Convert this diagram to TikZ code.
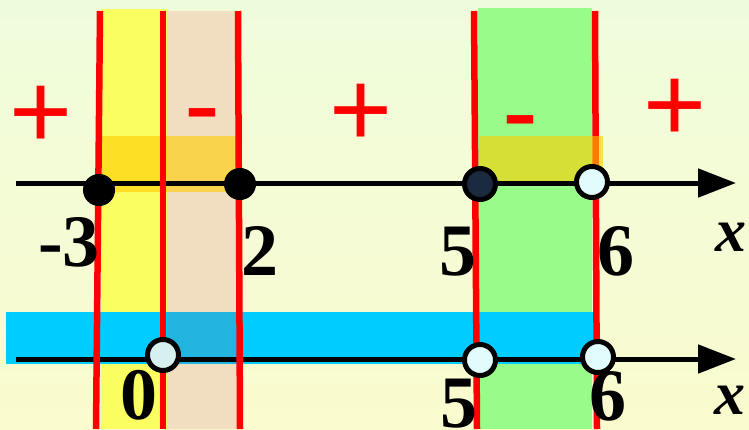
\documentclass[tikz,border=0pt]{standalone}
\usepackage{fontspec}
\setmainfont{Liberation Serif}
\newfontfamily\signfont{Liberation Sans}
\usetikzlibrary{arrows.meta}
\definecolor{bgtop}{RGB}{239,252,220}
\definecolor{bgbot}{RGB}{250,251,206}
\definecolor{bandyellow}{RGB}{250,254,96}
\definecolor{bandbeige}{RGB}{241,222,192}
\definecolor{bandgreen}{RGB}{152,252,136}
\definecolor{stripcol}{RGB}{255,205,0}
\definecolor{bandblue}{RGB}{0,204,255}
\definecolor{blueshade}{RGB}{32,180,222}
\definecolor{signred}{RGB}{255,0,0}
\definecolor{navy}{RGB}{26,43,64}
\definecolor{openfill}{RGB}{224,252,252}
\begin{document}
\begin{tikzpicture}[x=1pt,y=-1pt,
  redline/.style={draw=signred,line width=6.5pt},
  axis/.style={draw=black,line width=5pt,-{Triangle[length=38pt,width=28pt]}},
  dotfull/.style={circle,fill=black,draw=black,line width=1pt,minimum size=31pt,inner sep=0pt},
  dotopen/.style={circle,fill=openfill,draw=black,line width=5pt,minimum size=31pt,inner sep=0pt},
  num/.style={font=\fontsize{74}{74}\selectfont\bfseries,inner sep=0pt,text=black},
  xlab/.style={font=\fontsize{62}{62}\selectfont\bfseries\itshape,inner sep=0pt},
  sign/.style={font=\signfont\fontsize{108}{108}\selectfont,text=signred,inner sep=0pt}]
\useasboundingbox (0,0) rectangle (749,429);
\shade[top color=bgtop,bottom color=bgbot] (0,0) rectangle (749,429);
% bands
\fill[bandyellow] (101,9) rectangle (167,429);
\fill[bandbeige] (167,11) rectangle (241,429);
\fill[bandgreen] (478,8) rectangle (592,429);
\fill[stripcol,opacity=0.6] (97,136) rectangle (236,192);
\fill[bandblue] (6,312) rectangle (599,364);
\fill[blueshade] (167,312) rectangle (240,364);
% axes
\coordinate (t0) at (16,183);
\coordinate (t1) at (736,183);
\coordinate (b0) at (16,359);
\coordinate (b1) at (736,359);
\draw[axis] (t0) -- (t1);
\draw[axis] (b0) -- (b1);
% red boundary lines
\coordinate (r1a) at (100,11); \coordinate (r1b) at (96,429);
\coordinate (r2a) at (163,11); \coordinate (r2b) at (163,429);
\coordinate (r3a) at (238,11); \coordinate (r3b) at (240,429);
\coordinate (r4a) at (474,11); \coordinate (r4b) at (477,429);
\coordinate (r5a) at (595,11); \coordinate (r5b) at (597,429);
\draw[redline] (r1a) -- (r1b);
\draw[redline] (r2a) -- (r2b);
\draw[redline] (r3a) -- (r3b);
\draw[redline] (r4a) -- (r4b);
\draw[redline] (r5a) -- (r5b);
\fill[stripcol,opacity=0.6] (479,136) rectangle (603,183);
\draw[black,line width=5pt] (479,183) -- (576,183);
% points
\node[dotfull] (pm3) at (99,190) {};
\node[dotfull] (p2) at (240,184) {};
\node[dotopen,fill=navy] (p5) at (480,184) {};
\node[dotopen] (p6) at (592,182) {};
\node[dotopen,fill=openfill!90!gray] (q0) at (163,355) {};
\node[dotopen] (q5) at (480,360) {};
\node[dotopen] (q6) at (598,357) {};
% labels
\node[num] (lm3) at (69,242) {-3};
\node[num] (l2) at (260,251) {2};
\node[num] (l5) at (458,252) {5};
\node[num] (l6) at (616,251) {6};
\node[xlab] (lx1) at (731,237) {x};
\node[num] (k0) at (139,395) {0};
\node[num] (k5) at (459,404) {5};
\node[num] (k6) at (608,396) {6};
\node[xlab] (lx2) at (730,400) {x};
% signs
\node[sign] (s1) at (41,117) {+};
\node[sign] (s2) at (361,115) {+};
\node[sign] (s3) at (675,110) {+};
\node[sign] (s4) at (202,125) {-};
\node[sign] (s5) at (520,132) {-};
\end{tikzpicture}
\end{document}
